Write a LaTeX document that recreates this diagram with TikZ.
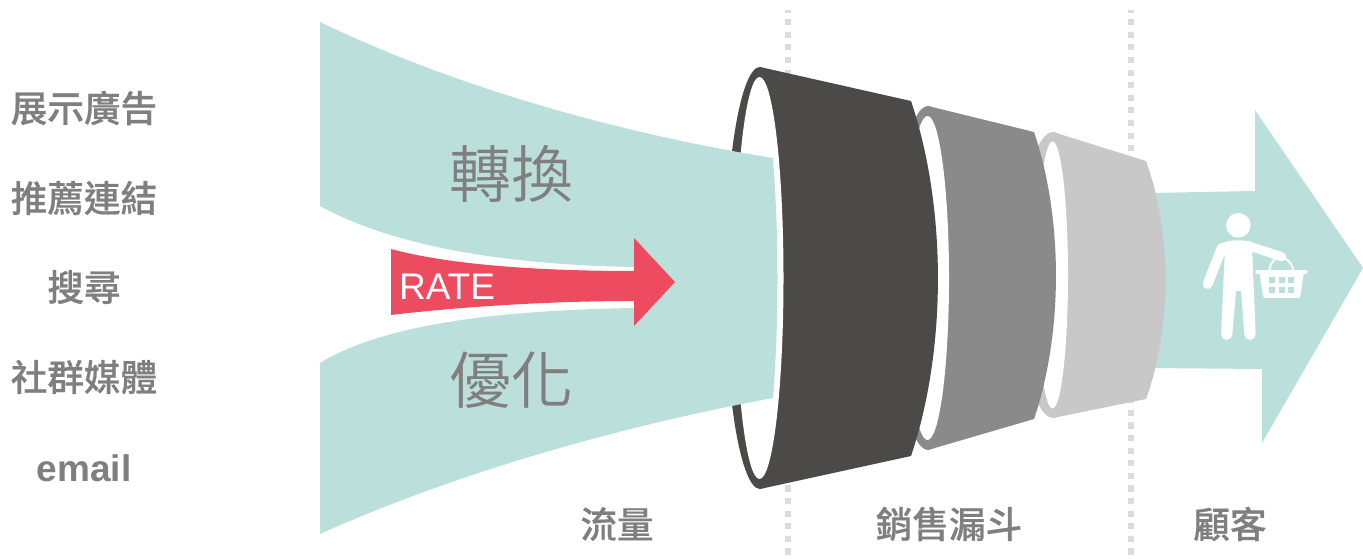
\documentclass[tikz,border=0pt]{standalone}
\usepackage{fontspec}
\setmainfont{Liberation Sans}
\newfontfamily\cjk[FakeBold=0.5]{Noto Sans CJK TC Medium}
\newfontfamily\cjklight{Noto Sans CJK TC DemiLight}
\definecolor{flowteal}{HTML}{BBDFDA}
\definecolor{ratered}{HTML}{ED4C60}
\definecolor{labelgray}{HTML}{7F7F7F}
\definecolor{cupdark}{HTML}{4C4A48}
\definecolor{cupmid}{HTML}{8A8A8A}
\definecolor{cuplight}{HTML}{C8C8C8}
\definecolor{sepgray}{HTML}{DCDCDC}
\tikzset{
  sidelabel/.style={text=labelgray,font=\cjk\fontsize{36.6}{36.6}\selectfont,inner sep=0pt},
  biglabel/.style={text=labelgray,font=\cjklight\fontsize{62}{62}\selectfont,inner sep=0pt},
  sepline/.style={color=sepgray,line width=6pt,dash pattern=on 6.1pt off 6.5pt,dash phase=3.4pt}
}
\begin{document}
\begin{tikzpicture}[x=1pt,y=-1pt]
  \useasboundingbox (0,0) rectangle (1363,559);

  % separators
  \foreach \x in {787.5,1130.7}
  \draw[sepline] (\x,10) -- (\x,559);

  % customer arrow
  \fill[flowteal] (1150,193) -- (1255,191) -- (1255,110) -- (1363,268)
  -- (1262,443) -- (1262,369) -- (1150,368) -- cycle;

  % funnel cups, narrow one first
  \foreach \col/\cx/\cyy/\ro/\ry/\ri/\rj/\xr/\ya/\yb/\db in {
    cuplight/1053/275/34/143/15.5/133.5/1146/161/399/19.5,
    cupmid/928/278/34/172/21.5/162/1034/132/419/22,
    cupdark/760/278/35/211/24/201/911/101/456/27}
  {
  \fill[\col] (\cx,\cyy) ellipse ({\ro} and {\ry});
  \fill[\col] (\cx,\cyy-\ry) -- (\xr,\ya)
  .. controls (\xr+1.33*\db,\ya+0.3*\yb-0.3*\ya) and (\xr+1.33*\db,\yb-0.3*\yb+0.3*\ya) .. (\xr,\yb)
  -- (\cx,\cyy+\ry) -- cycle;
  \fill[white] (\cx-0.5,\cyy) ellipse ({\ri} and {\rj});
  }

  % traffic flow
  \fill[flowteal] (320,22) .. controls (440,80) and (600,130) .. (773,158)
  .. controls (779,240) and (779,320) .. (773,398)
  .. controls (600,430) and (440,480) .. (320,534)
  -- (320,363) .. controls (390,320) and (520,310) .. (634,308)
  -- (655,285) -- (634,267)
  .. controls (520,265) and (400,250) .. (320,206) -- cycle;

  % rate arrow
  \fill[ratered] (391,249) .. controls (450,265) and (540,271) .. (634,271)
  -- (634,238) -- (675,282) -- (634,326) -- (634,301)
  .. controls (540,301) and (450,308) .. (391,315) -- cycle;
  \node[text=white,font=\fontsize{37}{37}\selectfont,inner sep=0pt] (rate) at (447,287) {RATE};

  % labels
  \node[sidelabel] (display) at (84,108) {展示廣告};
  \node[sidelabel] (referral) at (84,198) {推薦連結};
  \node[sidelabel] (search) at (84,287) {搜尋};
  \node[sidelabel] (social) at (84,377) {社群媒體};
  \node[sidelabel,font=\bfseries\fontsize{37}{37}\selectfont] (email) at (84,468.5) {email};
  \node[biglabel] (convert) at (511,174) {轉換};
  \node[biglabel] (optimize) at (511,380.5) {優化};
  \node[sidelabel] (traffic) at (617,524) {流量};
  \node[sidelabel] (funnel) at (949,524) {銷售漏斗};
  \node[sidelabel] (customer) at (1230,524) {顧客};

  % shopper
  \begin{scope}[shift={(1140,100)},x=0.3333pt,y=-0.3333pt]
    \fill[white] (295,376) circle (37);
    \draw[white,line width=10pt,line cap=round] (245,445) -- (203,552);
    \draw[white,line width=9pt,line cap=round] (320,436) -- (425,470);
    \fill[white] (240,432) .. controls (265,420) and (300,418) .. (335,425)
    -- (337,460) -- (347,703) arc (0:180:17)
    -- (303,573) -- (288,573) -- (277,703) arc (0:180:17) -- (254,470) -- cycle;
    % basket
    \draw[white,line width=2pt] (388,512) .. controls (392,460) and (450,460) .. (460,512);
    \draw[white,line width=4pt,line cap=round] (352,516) -- (497,516);
    \fill[white,rounded corners=1.5pt] (358,516) -- (370,594) -- (480,594) -- (492,516) -- cycle;
    \foreach \x in {388,416,445}
    \foreach \y in {530,560}
    \fill[flowteal] (\x,\y) rectangle +(18,18);
  \end{scope}
\end{tikzpicture}
\end{document}
